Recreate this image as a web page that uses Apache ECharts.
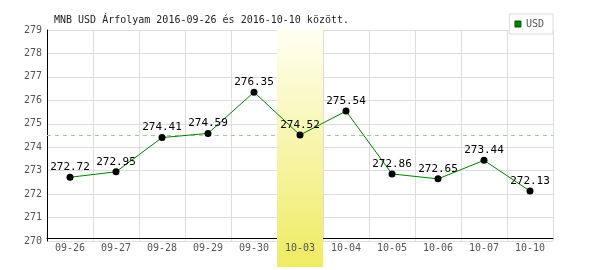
<!DOCTYPE html>
<html>
<head>
<meta charset="utf-8">
<script src="https://cdn.jsdelivr.net/npm/echarts@6/dist/echarts.min.js"></script>
<style>
html,body{margin:0;padding:0;background:#fff;}
#chart{width:600px;height:270px;}
</style>
</head>
<body>
<div id="chart"></div>
<script>
const categories = ['09-26','09-27','09-28','09-29','09-30','10-03','10-04','10-05','10-06','10-07','10-10'];
const usdValues = [272.72,272.95,274.41,274.59,276.35,274.52,275.54,272.86,272.65,273.44,272.13];
const yMin = 270;
const yMax = 279;
const yStep = 1;
const highlightDate = '10-03';
const referenceValue = 274.52;
const titleText = 'MNB USD Árfolyam 2016-09-26 és 2016-10-10 között.';
const seriesName = 'USD';

const MONO = '"DejaVu Sans Mono", "Liberation Mono", monospace';
const chart = echarts.init(document.getElementById('chart'), null, {renderer: 'canvas'});

const option = {
  animation: false,
  backgroundColor: '#fff',
  title: {
    text: titleText,
    left: 49,
    top: 10,
    textStyle: {fontFamily: MONO, fontSize: 10, fontWeight: 'normal', color: '#222'}
  },
  legend: {
    data: [{name: seriesName, icon: 'rect', itemStyle: {color: '#008000', borderColor: '#005a00', borderWidth: 1}}],
    right: 47,
    top: 14,
    padding: [5, 9, 5, 5],
    itemWidth: 6,
    itemHeight: 6,
    backgroundColor: '#fff',
    borderColor: '#ddd',
    borderWidth: 1,
    borderRadius: 0,
    textStyle: {fontFamily: MONO, fontSize: 10, color: '#555'}
  },
  grid: [
    {left: 47, right: 47, top: 30, bottom: 29, containLabel: false},
    {left: 47, right: 47, top: 29, bottom: 3, containLabel: false}
  ],
  xAxis: [
    {
      type: 'category', gridIndex: 0, data: categories, position: 'bottom', offset: -3,
      boundaryGap: true,
      axisLine: {show: true, lineStyle: {color: '#000', width: 1}},
      axisTick: {show: false},
      axisLabel: {show: false},
      splitLine: {show: true, lineStyle: {color: '#ddd', width: 1}},
      z: 0
    },
    {
      type: 'category', gridIndex: 1, data: categories, show: false, boundaryGap: true
    },
    {
      type: 'category', gridIndex: 0, data: categories, position: 'bottom', offset: -3,
      boundaryGap: true,
      axisLine: {show: false},
      axisTick: {show: false},
      splitLine: {show: false},
      axisLabel: {show: true, margin: 5, fontFamily: MONO, fontSize: 10, color: '#555'},
      z: 5
    }
  ],
  yAxis: [
    {
      type: 'value', gridIndex: 0, min: yMin, max: yMax, interval: yStep,
      axisLine: {show: true, lineStyle: {color: '#000', width: 1}},
      axisTick: {show: false},
      axisLabel: {margin: 5, fontFamily: MONO, fontSize: 10, color: '#555'},
      splitLine: {show: true, lineStyle: {color: '#ddd', width: 1}},
      z: 0
    },
    {
      type: 'value', gridIndex: 1, min: 0, max: 1, show: false
    }
  ],
  series: [
    {
      name: 'highlight',
      type: 'bar',
      xAxisIndex: 1,
      yAxisIndex: 1,
      data: categories.map(c => c === highlightDate ? 1 : null),
      barWidth: '100%',
      silent: true,
      z: 1,
      itemStyle: {
        color: new echarts.graphic.LinearGradient(0, 0, 0, 1, [
          {offset: 0, color: '#fffff2'},
          {offset: 1, color: '#efeb62'}
        ])
      }
    },
    {
      name: 'ref',
      type: 'line',
      xAxisIndex: 0,
      yAxisIndex: 0,
      data: [],
      z: 0,
      markLine: {
        z: 0.5,
        silent: true,
        symbol: 'none',
        label: {show: false},
        lineStyle: {color: '#a6c6a6', type: [4, 4], width: 1},
        data: [{yAxis: referenceValue}]
      }
    },
    {
      name: seriesName,
      type: 'line',
      xAxisIndex: 0,
      yAxisIndex: 0,
      data: usdValues,
      z: 3,
      symbol: 'circle',
      symbolSize: 7,
      lineStyle: {color: '#008000', width: 1},
      itemStyle: {color: '#000'},
      label: {
        show: true,
        position: 'top',
        distance: 1,
        fontFamily: MONO,
        fontSize: 11,
        color: '#000',
        formatter: p => p.value.toFixed(2)
      }
    }
  ]
};
chart.setOption(option);
</script>
</body>
</html>
